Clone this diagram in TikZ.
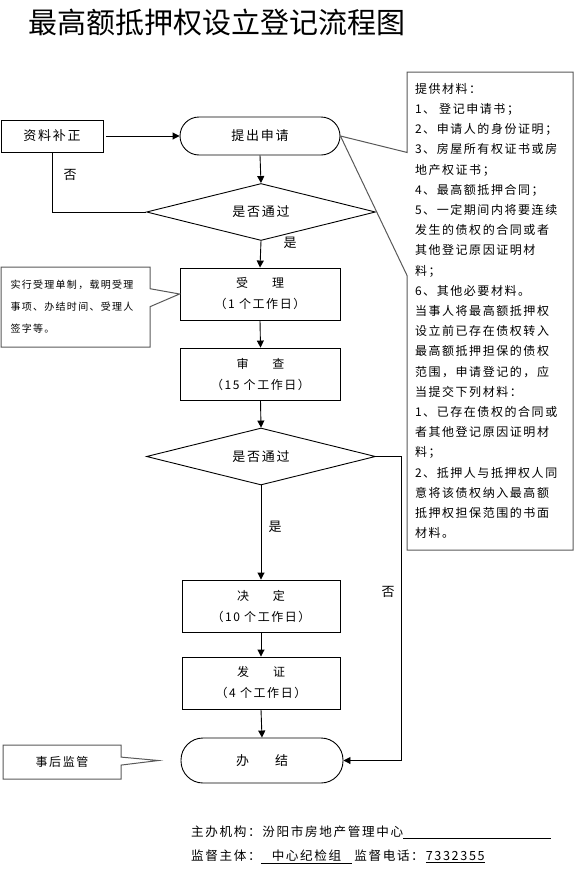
\documentclass[tikz,border=0pt]{standalone}
\usepackage{fontspec}
\setmainfont{Noto Sans CJK SC}
\newfontfamily\bodyfont[LetterSpace=13]{Noto Sans CJK SC}
\usetikzlibrary{shapes.geometric,shapes.callouts,arrows.meta}
\tikzset{
  stepbox/.style={draw, line width=0.9pt, minimum width=160pt, minimum height=52pt,
    align=center, font=\bodyfont\fontsize{12}{21}\selectfont},
  startstop/.style={draw, line width=0.9pt, rounded corners=19pt, minimum width=160pt,
    minimum height=38pt, font=\bodyfont\fontsize{13}{16}\selectfont},
  decision/.style={diamond, draw, line width=0.9pt, shape aspect=4, inner sep=0pt,
    minimum width=229pt, minimum height=57pt, font=\bodyfont\fontsize{13}{16}\selectfont},
  remark/.style={rectangle callout, draw=black!65, line width=1pt, fill=white},
  flowline/.style={line width=0.9pt, -{Triangle[length=7pt,width=7pt]}},
  plainline/.style={line width=0.9pt},
  lbl/.style={font=\bodyfont\fontsize{13}{16}\selectfont}
}

\begin{document}
\begin{tikzpicture}[x=1pt, y=-1pt]
\useasboundingbox (0,0) rectangle (575,889);

% title
\node[anchor=west, font=\fontsize{29}{34}\selectfont, inner sep=0pt] (title) at (28,22)
  {最高额抵押权设立登记流程图};

% main flow
\node[startstop] (apply) at (260,136) {提出申请};
\node[stepbox, minimum width=102pt, minimum height=32pt, font=\bodyfont\fontsize{13}{16}\selectfont]
  (fix) at (52,136) {资料补正};
\node[decision] (check1) at (261,212) {是否通过};
\node[stepbox] (accept) at (260,294) {受\hspace{24pt}理\\（1 个工作日）};
\node[stepbox] (review) at (260.5,374) {审\hspace{24pt}查\\（15 个工作日）};
\node[decision] (check2) at (261,456.5) {是否通过};
\node[stepbox, minimum width=158pt] (decide) at (261,606) {决\hspace{24pt}定\\（10 个工作日）};
\node[stepbox, minimum width=158pt] (issue) at (261,683) {发\hspace{24pt}证\\（4 个工作日）};
\node[startstop, minimum width=162pt, minimum height=45pt, rounded corners=22pt]
  (finish) at (262,760.5) {办\hspace{26pt}结};

% labels
\node[lbl] (no1) at (70,175) {否};
\node[lbl] (yes1) at (290,243) {是};
\node[lbl] (yes2) at (275,527) {是};
\node[lbl] (no2) at (388,592) {否};

% connectors
\coordinate (turn) at (401,456.5);
\draw[flowline] (fix.east) ++(3,0) -- (apply.west);
\draw[flowline] (apply.south) -- (check1.north);
\draw[plainline] (check1.west) -| (fix.south);
\draw[flowline] (check1.south) -- (accept.north);
\draw[flowline] (accept.south) -- (review.north);
\draw[flowline] (review.south) -- (check2.north);
\draw[flowline] (check2.south) -- (decide.north);
\draw[flowline] (decide.south) -- (issue.north);
\draw[flowline] (issue.south) -- (finish.north);
\draw[flowline] (check2.east) -- (turn) |- (finish.east);

% notes
\node[remark, minimum width=166pt, minimum height=478pt, text width=150pt, align=left,
  callout absolute pointer={(apply.east)}, callout pointer width=123pt,
  font=\bodyfont\fontsize{12}{20.2}\selectfont] (materials) at (490,311)
  {提供材料：\\
   1、 登记申请书；\\
   2、申请人的身份证明；\\
   3、房屋所有权证书或房\\
   地产权证书；\\
   4、最高额抵押合同；\\
   5、一定期间内将要连续\\
   发生的债权的合同或者\\
   其他登记原因证明材\\
   料；\\
   6、其他必要材料。\\
   当事人将最高额抵押权\\
   设立前已存在债权转入\\
   最高额抵押担保的债权\\
   范围，申请登记的，应\\
   当提交下列材料：\\
   1、已存在债权的合同或\\
   者其他登记原因证明材\\
   料；\\
   2、抵押人与抵押权人同\\
   意将该债权纳入最高额\\
   抵押权担保范围的书面\\
   材料。};
\node[remark, minimum width=149pt, minimum height=80pt, text width=130pt, align=left,
  callout absolute pointer={(accept.west)}, callout pointer width=18pt,
  font=\bodyfont\fontsize{10}{22}\selectfont] (acceptnote) at (75.5,307)
  {实行受理单制，载明受理\\事项、办结时间、受理人\\签字等。};
\node[remark, minimum width=118pt, minimum height=34pt,
  callout absolute pointer={([xshift=-22pt]finish.west)}, callout pointer width=8pt,
  font=\bodyfont\fontsize{12}{16}\selectfont] (supervise) at (62,762) {事后监管};

% footer
\node[anchor=west, inner sep=0pt, font=\bodyfont\fontsize{12.6}{16}\selectfont] (host) at (191,832)
  {主办机构：汾阳市房地产管理中心\underline{\hspace{148pt}}};
\node[anchor=west, inner sep=0pt, font=\bodyfont\fontsize{12.6}{16}\selectfont] (monitor) at (191,857)
  {监督主体：\underline{\hspace{11pt}中心纪检组\hspace{11pt}}\hspace{2pt}监督电话：\hspace{2pt}\underline{7332355}};
\end{tikzpicture}
\end{document}
